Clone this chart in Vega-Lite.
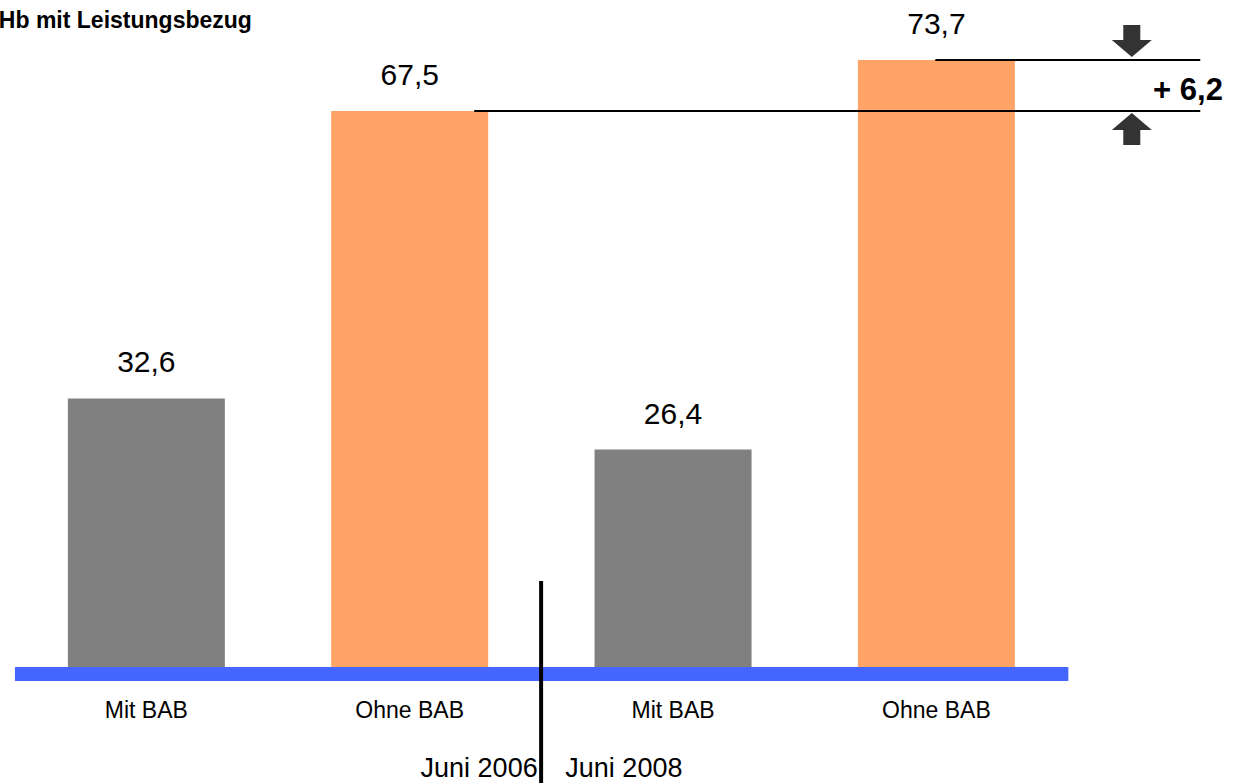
{
  "$schema": "https://vega.github.io/schema/vega-lite/v6.json",
  "width": 1235,
  "height": 783,
  "autosize": "none",
  "padding": 0,
  "background": "white",
  "config": {"view": {"stroke": null}, "axis": {"domain": false, "grid": false, "ticks": false, "labels": false, "title": null}},
  "datasets": {
    "bars": [
      {"period": "Juni 2006", "group": "Mit BAB", "pos": 1, "value": 32.6, "label": "32,6"},
      {"period": "Juni 2006", "group": "Ohne BAB", "pos": 2, "value": 67.5, "label": "67,5"},
      {"period": "Juni 2008", "group": "Mit BAB", "pos": 3, "value": 26.4, "label": "26,4"},
      {"period": "Juni 2008", "group": "Ohne BAB", "pos": 4, "value": 73.7, "label": "73,7"}
    ],
    "band": [{"x": 0.501, "x2": 4.501, "y": 0, "y2": -1.7}],
    "divider": [{"x": 2.499, "y": 10.44, "y2": -14.08}],
    "refs": [
      {"x": 2.245, "x2": 5.002, "y": 67.5},
      {"x": 3.996, "x2": 5.002, "y": 73.7}
    ],
    "periods": [
      {"period": "Juni 2006", "x": 2.486, "side": "left"},
      {"period": "Juni 2008", "x": 2.591, "side": "right"}
    ],
    "diff": [{"label": "+ 6,2", "x": 5.088, "y": 68.84}],
    "title": [{"label": "Hb mit Leistungsbezug", "x": 0.44, "y": 77.58}],
    "arrowDown": [{"x": 4.742, "y": 76.0}],
    "arrowUp": [{"x": 4.742, "y": 65.32}]
  },
  "encoding": {},
  "layer": [
    {
      "data": {"name": "bars"},
      "mark": {"type": "bar", "width": 157},
      "encoding": {
        "x": {"field": "pos", "type": "quantitative", "scale": {"domain": [0.46328, 5.11488], "nice": false, "zero": false}, "axis": null},
        "y": {"field": "value", "type": "quantitative", "scale": {"domain": [-14.083, 80.976], "nice": false, "zero": false}, "axis": null},
        "y2": {"datum": 0},
        "color": {"field": "group", "type": "nominal", "scale": {"domain": ["Mit BAB", "Ohne BAB"], "range": ["#808080", "#FFA466"]}, "legend": null}
      }
    },
    {
      "data": {"name": "bars"},
      "mark": {"type": "text", "font": "Liberation Sans", "fontSize": 30, "baseline": "alphabetic", "align": "center", "dy": -26, "color": "#000000"},
      "encoding": {
        "x": {"field": "pos", "type": "quantitative"},
        "y": {"field": "value", "type": "quantitative"},
        "text": {"field": "label"}
      }
    },
    {
      "data": {"name": "bars"},
      "mark": {"type": "text", "font": "Liberation Sans", "fontSize": 23, "baseline": "alphabetic", "align": "center", "color": "#000000"},
      "encoding": {
        "x": {"field": "pos", "type": "quantitative"},
        "y": {"datum": -6.19},
        "text": {"field": "group"}
      }
    },
    {
      "data": {"name": "band"},
      "mark": {"type": "rect", "color": "#4466FF"},
      "encoding": {
        "x": {"field": "x", "type": "quantitative"},
        "x2": {"field": "x2"},
        "y": {"field": "y", "type": "quantitative"},
        "y2": {"field": "y2"}
      }
    },
    {
      "data": {"name": "divider"},
      "mark": {"type": "rule", "color": "#000000", "strokeWidth": 4},
      "encoding": {
        "x": {"field": "x", "type": "quantitative"},
        "y": {"field": "y", "type": "quantitative"},
        "y2": {"field": "y2"}
      }
    },
    {
      "data": {"name": "refs"},
      "mark": {"type": "rule", "color": "#000000", "strokeWidth": 2},
      "encoding": {
        "x": {"field": "x", "type": "quantitative"},
        "x2": {"field": "x2"},
        "y": {"field": "y", "type": "quantitative"}
      }
    },
    {
      "data": {"name": "periods"},
      "transform": [{"filter": "datum.side === 'left'"}],
      "mark": {"type": "text", "font": "Liberation Sans", "fontSize": 27, "baseline": "alphabetic", "align": "right", "color": "#000000"},
      "encoding": {
        "x": {"field": "x", "type": "quantitative"},
        "y": {"datum": -13.35},
        "text": {"field": "period"}
      }
    },
    {
      "data": {"name": "periods"},
      "transform": [{"filter": "datum.side === 'right'"}],
      "mark": {"type": "text", "font": "Liberation Sans", "fontSize": 27, "baseline": "alphabetic", "align": "left", "color": "#000000"},
      "encoding": {
        "x": {"field": "x", "type": "quantitative"},
        "y": {"datum": -13.35},
        "text": {"field": "period"}
      }
    },
    {
      "data": {"name": "diff"},
      "mark": {"type": "text", "font": "Liberation Sans", "fontSize": 31, "fontWeight": "bold", "baseline": "alphabetic", "align": "right", "color": "#000000"},
      "encoding": {
        "x": {"field": "x", "type": "quantitative"},
        "y": {"field": "y", "type": "quantitative"},
        "text": {"field": "label"}
      }
    },
    {
      "data": {"name": "title"},
      "mark": {"type": "text", "font": "Liberation Sans", "fontSize": 23, "fontWeight": "bold", "baseline": "alphabetic", "align": "left", "color": "#000000"},
      "encoding": {
        "x": {"field": "x", "type": "quantitative"},
        "y": {"field": "y", "type": "quantitative"},
        "text": {"field": "label"}
      }
    },
    {
      "data": {"name": "arrowDown"},
      "mark": {"type": "point", "filled": true, "opacity": 1, "color": "#333333", "size": 1600, "shape": "M-0.425,-0.8L0.425,-0.8L0.425,-0.05L1,-0.05L0,0.8L-1,-0.05L-0.425,-0.05Z"},
      "encoding": {
        "x": {"field": "x", "type": "quantitative"},
        "y": {"field": "y", "type": "quantitative"}
      }
    },
    {
      "data": {"name": "arrowUp"},
      "mark": {"type": "point", "filled": true, "opacity": 1, "color": "#333333", "size": 1600, "shape": "M-0.425,0.8L0.425,0.8L0.425,0.05L1,0.05L0,-0.8L-1,0.05L-0.425,0.05Z"},
      "encoding": {
        "x": {"field": "x", "type": "quantitative"},
        "y": {"field": "y", "type": "quantitative"}
      }
    }
  ]
}
